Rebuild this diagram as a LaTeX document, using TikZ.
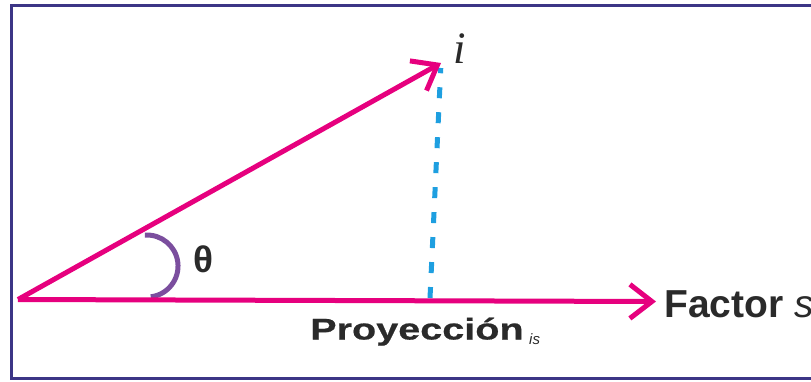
\documentclass[tikz,border=0pt]{standalone}
\usepackage{fontspec}
\setmainfont{Liberation Sans}
\newfontfamily\vecfont{Liberation Serif}
\newfontfamily\widefont[FakeStretch=1.32, FakeBold=0.6]{Liberation Sans Bold}
\usepackage{tikz}
\usetikzlibrary{arrows.meta}
\definecolor{vecpink}{HTML}{E6007E}
\definecolor{projcyan}{HTML}{1E9FE0}
\definecolor{anglepurple}{HTML}{7B4E9E}
\definecolor{framestroke}{HTML}{3C3586}
\definecolor{labeltext}{HTML}{2A2A2A}

\begin{document}
\begin{tikzpicture}[x=1pt, y=-1pt,
  vec/.style={line width=5pt, vecpink, -{Straight Barb[length=22pt, width=34pt]}},
  proj/.style={line width=5pt, projcyan, dash pattern=on 11pt off 14pt},
  lbl/.style={text=labeltext, inner sep=0pt}]
  \clip (0,0) rectangle (811,381);
  \draw[line width=3pt, framestroke] (11,5.5) rectangle (830,378.5);
  \coordinate (O) at (18,299.5);
  \coordinate (I) at (441,63);
  \coordinate (S) at (656,301.5);
  \coordinate (F) at (430,298);
  \coordinate (A) at (150.8,296.8);
  % projection and angle
  \draw[proj, shorten >=5pt] (F) -- (I);
  \draw[line width=5pt, anglepurple] (A) arc[start angle=83, end angle=-94, radius=31];
  % vectors
  \draw[vec] (O) -- (I);
  \draw[vec] (O) -- (S);
  \node[lbl, font=\fontsize{45}{45}\selectfont\vecfont\itshape, anchor=base] (ilabel) at (460,63) {i};
  \node[lbl, font=\fontsize{37}{37}\selectfont\bfseries] (theta) at (203,259) {θ};
  \node[lbl, font=\fontsize{39}{39}\selectfont\bfseries, anchor=base west] (factor) at (664,317) {Factor \textnormal{\itshape s}};
  \node[lbl, font=\fontsize{30}{30}\selectfont\widefont, anchor=base west] (proy) at (310,339.5) {Proyección};
  \node[lbl, font=\fontsize{15}{15}\selectfont\itshape, anchor=base west] (sub) at (529,344) {is};
\end{tikzpicture}
\end{document}
